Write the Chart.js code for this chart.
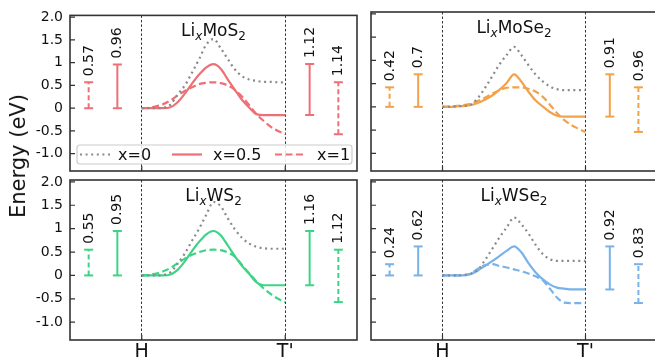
<!DOCTYPE html>
<html>
<head>
<meta charset="utf-8">
<script src="https://cdn.jsdelivr.net/npm/chart.js@4.4.0/dist/chart.umd.min.js"></script>
<style>
  html, body { margin: 0; padding: 0; background: #fff; }
  #wrap { position: relative; width: 655px; height: 362px; overflow: hidden; }
  #wrap canvas { position: absolute; left: 0; top: 0; }
  #ylab {
    position: absolute; left: 18px; top: 156px;
    transform: translate(-50%, -50%) rotate(-90deg);
    font: 21px "DejaVu Sans", sans-serif; color: #111; white-space: nowrap;
  }
</style>
</head>
<body>
<div id="wrap">
  <canvas id="c1" width="670" height="362"></canvas>
  <canvas id="c2" width="670" height="362"></canvas>
  <canvas id="c3" width="670" height="362"></canvas>
  <canvas id="c4" width="670" height="362"></canvas>
  <div id="ylab">Energy (eV)</div>
</div>
<script>
// reaction coordinate H -> T'
const pathX = [0, 0.05, 0.1, 0.15, 0.2, 0.25, 0.3, 0.35, 0.4, 0.45, 0.5,
               0.55, 0.6, 0.65, 0.7, 0.75, 0.8, 0.85, 0.9, 0.95, 1];

const yTicks = [-1, -0.5, 0, 0.5, 1, 1.5, 2];
const yTickLabels = ["-1.0", "-0.5", "0", "0.5", "1", "1.5", "2.0"];
const xTicks = [0, 1];
const xTickLabels = ["H", "T'"];
const seriesNames = ["x=0", "x=0.5", "x=1"];

// LixMoS2
const mos2_x0  = [0, 0, 0, 0.01, 0.08, 0.3, 0.5, 0.78, 1.08, 1.4, 1.52, 1.32, 1.08, 0.85, 0.7, 0.63, 0.6, 0.58, 0.58, 0.57, 0.57];
const mos2_x05 = [0, 0, 0, 0, 0.02, 0.13, 0.32, 0.54, 0.74, 0.9, 0.97, 0.87, 0.63, 0.4, 0.18, 0.01, -0.13, -0.15, -0.15, -0.15, -0.15];
const mos2_x1  = [0, 0.01, 0.04, 0.09, 0.17, 0.28, 0.38, 0.46, 0.53, 0.56, 0.57, 0.55, 0.5, 0.4, 0.25, 0.06, -0.13, -0.28, -0.41, -0.5, -0.57];
// LixMoSe2
const mose2_x0  = [0, 0, 0.01, 0.02, 0.05, 0.2, 0.42, 0.67, 0.92, 1.12, 1.29, 1.12, 0.9, 0.7, 0.55, 0.44, 0.38, 0.36, 0.36, 0.36, 0.36];
const mose2_x05 = [0, 0, 0.01, 0.02, 0.04, 0.09, 0.16, 0.25, 0.37, 0.52, 0.7, 0.55, 0.33, 0.14, 0.01, -0.11, -0.19, -0.21, -0.21, -0.21, -0.21];
const mose2_x1  = [0, 0.01, 0.02, 0.04, 0.07, 0.13, 0.2, 0.29, 0.36, 0.41, 0.42, 0.42, 0.39, 0.33, 0.22, 0.05, -0.13, -0.28, -0.39, -0.47, -0.54];
// LixWS2
const ws2_x0  = [0, 0, 0, 0.01, 0.07, 0.25, 0.47, 0.74, 1.0, 1.3, 1.57, 1.48, 1.22, 0.98, 0.8, 0.68, 0.61, 0.58, 0.57, 0.57, 0.57];
const ws2_x05 = [0, 0, 0, 0, 0.02, 0.12, 0.3, 0.52, 0.72, 0.88, 0.95, 0.86, 0.64, 0.41, 0.2, 0.03, -0.15, -0.21, -0.21, -0.21, -0.21];
const ws2_x1  = [0, 0.01, 0.04, 0.09, 0.16, 0.26, 0.36, 0.44, 0.5, 0.54, 0.55, 0.54, 0.49, 0.4, 0.22, 0.04, -0.13, -0.28, -0.4, -0.5, -0.57];
// LixWSe2
const wse2_x0  = [0, 0, 0, 0.01, 0.04, 0.13, 0.34, 0.58, 0.82, 1.03, 1.24, 1.1, 0.9, 0.66, 0.46, 0.35, 0.31, 0.31, 0.31, 0.31, 0.31];
const wse2_x05 = [0, 0, 0, 0, 0.03, 0.11, 0.21, 0.31, 0.42, 0.53, 0.62, 0.5, 0.27, 0.07, -0.08, -0.19, -0.26, -0.28, -0.3, -0.3, -0.3];
const wse2_x1  = [0, 0, 0, 0.01, 0.04, 0.15, 0.22, 0.24, 0.2, 0.17, 0.13, 0.09, 0.04, -0.02, -0.1, -0.28, -0.47, -0.58, -0.59, -0.59, -0.59];

// barrier bars: [x position, bottom, top], label
const barX = [-0.37, -0.17, 1.17, 1.37];
const mos2_bars  = [[0, 0.57], [0, 0.96], [-0.15, 0.97], [-0.57, 0.57]];
const mos2_lab   = ["0.57", "0.96", "1.12", "1.14"];
const mose2_bars = [[0, 0.42], [0, 0.7], [-0.21, 0.7], [-0.54, 0.42]];
const mose2_lab  = ["0.42", "0.7", "0.91", "0.96"];
const ws2_bars   = [[0, 0.55], [0, 0.95], [-0.21, 0.95], [-0.57, 0.55]];
const ws2_lab    = ["0.55", "0.95", "1.16", "1.12"];
const wse2_bars  = [[0, 0.24], [0, 0.62], [-0.3, 0.62], [-0.59, 0.24]];
const wse2_lab   = ["0.24", "0.62", "0.92", "0.83"];
const barDashed  = [true, false, false, true];

const FONT = '"DejaVu Sans", sans-serif';
const GRAY = "#8a8a8a";
const DASH = [7, 3.5];
const DOTS = [2, 3.6];

function pts(ys) { return ys.map((y, i) => ({ x: pathX[i], y: y })); }

function makePanel(id, p) {
  const datasets = [
    { label: seriesNames[0], data: pts(p.s0), borderColor: GRAY, borderWidth: 2.2, borderDash: DOTS,
      pointRadius: 0, cubicInterpolationMode: "monotone", borderCapStyle: "butt" },
    { label: seriesNames[1], data: pts(p.s1), borderColor: p.color, borderWidth: 2.2,
      pointRadius: 0, cubicInterpolationMode: "monotone" },
    { label: seriesNames[2], data: pts(p.s2), borderColor: p.color, borderWidth: 2.2, borderDash: DASH,
      pointRadius: 0, cubicInterpolationMode: "monotone" }
  ];
  p.bars.forEach((b, i) => {
    datasets.push({
      label: "bar" + i,
      data: [{ x: barX[i], y: b[0] }, { x: barX[i], y: b[1] }],
      borderColor: p.color, borderWidth: 2, borderDash: barDashed[i] ? [5, 3] : [],
      pointStyle: "line", pointRadius: 4.5, pointBorderWidth: 2, pointBorderColor: p.color,
      tension: 0
    });
  });

  const panelPlugin = {
    id: "panel" + id,
    afterDatasetsDraw(chart) {
      const ctx = chart.ctx, a = chart.chartArea;
      const xs = chart.scales.x, ys = chart.scales.y;
      ctx.save();
      // box
      ctx.strokeStyle = "#333"; ctx.lineWidth = 1.6; ctx.setLineDash([]);
      ctx.strokeRect(a.left, a.top, a.right - a.left, a.bottom - a.top);
      // inward ticks
      ctx.lineWidth = 1.2;
      ctx.beginPath();
      yTicks.forEach(v => { const y = ys.getPixelForValue(v); ctx.moveTo(a.left, y); ctx.lineTo(a.left + 5, y); });
      xTicks.forEach(v => { const x = xs.getPixelForValue(v); ctx.moveTo(x, a.bottom); ctx.lineTo(x, a.bottom - 5); });
      ctx.stroke();
      // barrier labels
      ctx.fillStyle = "#111"; ctx.font = "14px " + FONT;
      ctx.textAlign = "left"; ctx.textBaseline = "middle";
      p.bars.forEach((b, i) => {
        const x = xs.getPixelForValue(barX[i]), y = ys.getPixelForValue(b[1]);
        ctx.save(); ctx.translate(x + 0.5, y - 6); ctx.rotate(-Math.PI / 2);
        ctx.fillText(p.labels[i], 0, 0); ctx.restore();
      });
      // title Li_x M _2
      const big = "17px " + FONT, small = "12px " + FONT, smallIt = "italic 12px " + FONT;
      const parts = [["Li", big, 0], ["x", smallIt, 3.5], [p.name, big, 0], ["2", small, 3.5]];
      let w = 0;
      parts.forEach(q => { ctx.font = q[1]; w += ctx.measureText(q[0]).width; });
      let tx = xs.getPixelForValue(0.5) - w / 2;
      const base = a.top + 21;
      ctx.textBaseline = "alphabetic";
      parts.forEach(q => { ctx.font = q[1]; ctx.fillText(q[0], tx, base + q[2]); tx += ctx.measureText(q[0]).width; });
      // legend
      if (p.legend) {
        const lx = a.left + 7, ly = a.bottom - 26, lw = 275, lh = 19;
        ctx.fillStyle = "rgba(255,255,255,0.85)"; ctx.strokeStyle = "#cccccc"; ctx.lineWidth = 1.2;
        ctx.beginPath(); ctx.roundRect(lx, ly, lw, lh, 3); ctx.fill(); ctx.stroke();
        const cy = ly + lh / 2;
        const items = [[GRAY, DOTS, 3, 41], [p.color, [], 95, 136], [p.color, DASH, 198, 240]];
        items.forEach((it, k) => {
          ctx.strokeStyle = it[0]; ctx.lineWidth = 2.2; ctx.setLineDash(it[1]);
          ctx.beginPath(); ctx.moveTo(lx + it[2], cy); ctx.lineTo(lx + it[2] + 30, cy); ctx.stroke();
          ctx.setLineDash([]);
          ctx.fillStyle = "#111"; ctx.font = "16px " + FONT; ctx.textBaseline = "middle"; ctx.textAlign = "left";
          ctx.fillText(seriesNames[k], lx + it[3], cy + 1);
        });
      }
      ctx.restore();
    }
  };

  const r = p.area;
  return new Chart(document.getElementById(id), {
    type: "line",
    data: { datasets },
    options: {
      responsive: false, animation: false, events: [], devicePixelRatio: 1,
      layout: { padding: { left: r[0] - 40, top: r[1], right: 670 - r[2], bottom: 362 - r[3] - 22 } },
      plugins: { legend: { display: false }, tooltip: { enabled: false } },
      scales: {
        x: {
          type: "linear", min: -0.5, max: 1.5,
          afterBuildTicks: s => { s.ticks = xTicks.map(v => ({ value: v })); },
          afterFit: s => { s.height = 22; },
          ticks: { display: p.showX, padding: 1, color: "#111", font: { family: FONT, size: 19 },
                   callback: v => xTickLabels[xTicks.indexOf(v)], autoSkip: false, maxRotation: 0 },
          grid: { display: true, drawOnChartArea: true, drawTicks: false, color: "#333", lineWidth: 1 },
          border: { display: false, dash: [2.5, 2] }
        },
        y: {
          type: "linear", min: -1.38, max: 2.04,
          afterBuildTicks: s => { s.ticks = yTicks.map(v => ({ value: v })); },
          afterFit: s => { s.width = 40; },
          ticks: { display: p.showY, padding: 7, color: "#111", font: { family: FONT, size: 14 },
                   callback: v => yTickLabels[yTicks.indexOf(v)] },
          grid: { display: false, drawTicks: false },
          border: { display: false }
        }
      }
    },
    plugins: [panelPlugin]
  });
}

makePanel("c1", { area: [70, 12, 357, 171], color: "#ef6f76", name: "MoS",
  s0: mos2_x0, s1: mos2_x05, s2: mos2_x1, bars: mos2_bars, labels: mos2_lab,
  showX: false, showY: true, legend: true });
makePanel("c2", { area: [371, 12, 657, 171], color: "#f2a24a", name: "MoSe",
  s0: mose2_x0, s1: mose2_x05, s2: mose2_x1, bars: mose2_bars, labels: mose2_lab,
  showX: false, showY: false, legend: false });
makePanel("c3", { area: [70, 180, 357, 340], color: "#3dd585", name: "WS",
  s0: ws2_x0, s1: ws2_x05, s2: ws2_x1, bars: ws2_bars, labels: ws2_lab,
  showX: true, showY: true, legend: false });
makePanel("c4", { area: [371, 180, 657, 340], color: "#79b2e8", name: "WSe",
  s0: wse2_x0, s1: wse2_x05, s2: wse2_x1, bars: wse2_bars, labels: wse2_lab,
  showX: true, showY: false, legend: false });
</script>
</body>
</html>
